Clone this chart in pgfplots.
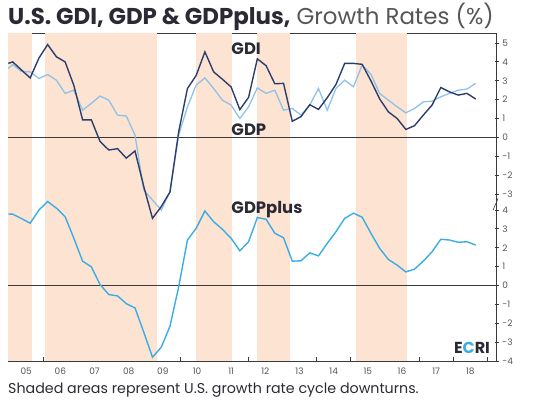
\documentclass[border=0pt]{standalone}
\usepackage{fontspec}
\setmainfont{Poppins}
\usepackage{pgfplots}
\pgfplotsset{compat=1.18}
\usepackage{pgfplotstable}
\definecolor{gdicol}{HTML}{2C3E6E}
\definecolor{gdpcol}{HTML}{8DC3E8}
\definecolor{pluscol}{HTML}{3AACE6}
\definecolor{shadecol}{HTML}{FCE3D2}
\definecolor{framecol}{HTML}{3A3A3A}
\definecolor{tickcol}{HTML}{555555}
\definecolor{titlecol}{HTML}{2A2A35}

% i = quarter index; top panel values (GDI, GDP) are shifted by +7.85 on the shared axis
\pgfplotstableread{
i gdi gdp plus
0.496 3.92 3.65 3.79
1 4.00 3.86 3.78
2 3.57 3.50 3.55
3 3.15 3.47 3.30
4 4.20 3.12 4.00
5 4.92 3.33 4.45
6 4.27 3.03 4.10
7 4.00 2.33 3.65
8 2.75 2.50 2.50
9 0.93 1.44 1.29
10 0.93 1.80 0.99
11 -0.22 2.19 0.05
12 -0.67 1.97 -0.48
13 -0.60 1.18 -0.55
14 -1.10 1.13 -0.96
15 -0.72 0.12 -1.19
16 -2.60 -2.79 -2.47
17 -4.29 -3.32 -3.80
18 -3.67 -3.85 -3.27
19 -2.90 -2.88 -2.16
20 0.30 0.12 -0.07
21 2.59 1.62 2.41
22 3.28 2.77 3.03
23 4.53 3.15 3.95
24 3.47 2.59 3.38
25 3.08 1.97 2.98
26 2.67 1.71 2.50
27 1.47 1.00 1.84
28 2.12 1.62 2.32
29 4.16 2.62 3.60
30 3.80 2.33 3.51
31 2.84 2.50 2.77
32 2.86 1.44 2.53
33 0.85 1.53 1.29
34 1.10 1.18 1.31
35 1.73 1.71 1.73
36 1.48 2.59 1.57
37 2.10 1.44 2.23
38 2.80 2.59 2.85
39 3.92 3.03 3.56
40 3.92 2.68 3.83
41 3.87 3.83 3.62
42 3.00 3.35 2.77
43 2.04 2.33 1.97
44 1.35 1.97 1.38
45 1.00 1.62 1.08
46 0.42 1.30 0.72
47 0.62 1.53 0.87
48 1.18 1.88 1.29
49 1.71 1.92 1.79
50 2.64 2.15 2.45
51 2.41 2.33 2.41
52 2.24 2.50 2.29
53 2.33 2.56 2.32
54 2.03 2.86 2.14
}\data

\pgfplotstableread{
x0 x1
0.496 3.175
4.698 17.48
21.98 26.07
28.93 32.74
40.30 46.11
}\shades

\begin{document}
\begin{tikzpicture}
\path[use as bounding box] (-8.3bp,-39bp) rectangle (524.7bp,361bp);
\begin{axis}[
  at={(0,0)}, anchor=south west,
  scale only axis, width=488.4bp, height=328bp,
  xmin=0.496, xmax=56.40, ymin=-4, ymax=13.38,
  clip=false,
  axis line style={framecol, line width=0.9pt},
  /pgf/number format/assume math mode=true,
  major tick length=4bp, tick align=center,
  tick style={framecol, line width=0.8pt},
  xtick={2.549,6.459,10.369,14.28,18.19,22.10,26.01,29.92,33.83,37.74,41.65,45.56,49.47,53.38},
  xticklabels={05,06,07,08,09,10,11,12,13,14,15,16,17,18},
  xtick pos=bottom,
  xtick style={draw=none},
  xticklabel style={font=\fontsize{9}{9}\selectfont, text=tickcol, inner sep=1bp, yshift=-3.5bp},
  extra x ticks={4.504,8.414,12.324,16.235,20.145,24.055,27.966,31.876,35.786,39.696,43.607,47.517,51.427,55.338},
  extra x tick labels={},
  extra x tick style={tick align=inside, xtick style={draw=framecol, line width=0.8pt}},
  ytick={-4,-3,-2,-1,0,1,2,3,4,4.85,5.85,6.85,7.85,8.85,9.85,10.85,11.85,12.85},
  yticklabels={-4,-3,-2,-1,0,1,2,3,4,-3,-2,-1,0,1,2,3,4,5},
  ytick pos=right, yticklabel pos=right,
  yticklabel style={font=\fontsize{9}{9}\selectfont, text=tickcol, inner sep=1bp, anchor=west, xshift=2.5bp},
]
% shaded downturns
\pgfplotsinvokeforeach{0,1,2,3,4}{
  \pgfplotstablegetelem{#1}{x0}\of\shades \let\xa\pgfplotsretval
  \pgfplotstablegetelem{#1}{x1}\of\shades \let\xb\pgfplotsretval
  \addplot[fill=shadecol, draw=none] coordinates {(\xa,-4) (\xa,13.38) (\xb,13.38) (\xb,-4)} -- cycle;
}
% zero lines
\addplot[framecol, line width=0.8pt] coordinates {(0.496,0) (56.40,0)};
\addplot[framecol, line width=0.8pt] coordinates {(0.496,7.85) (56.40,7.85)};
% series
\addplot[gdpcol, line width=1.3pt] table[x=i, y expr=\thisrow{gdp}+7.85] {\data};
\addplot[gdicol, line width=1.4pt] table[x=i, y expr=\thisrow{gdi}+7.85] {\data};
\addplot[pluscol, line width=1.4pt] table[x=i, y=plus] {\data};
% labels
\node[anchor=base west, inner sep=0pt, font=\fontsize{16.5}{16.5}\selectfont\bfseries, text=titlecol] at (axis cs:26.02,12.25) {GDI};
\node[anchor=base west, inner sep=0pt, font=\fontsize{16.5}{16.5}\selectfont\bfseries, text=titlecol] at (axis cs:26.02,7.97) {GDP};
\node[anchor=base west, inner sep=0pt, font=\fontsize{16.5}{16.5}\selectfont\bfseries, text=titlecol] at (axis cs:26.02,3.82) {GDPplus};
\node[font=\fontsize{16}{16}\selectfont\bfseries, text=titlecol, inner sep=0pt] at (axis cs:53.57,-3.33) {E\textcolor{pluscol}{C}RI};
% axis break mark
\draw[framecol, line width=0.6pt] (axis cs:55.98,3.99) -- (axis cs:56.56,4.62);
\end{axis}
\node[anchor=base west, inner sep=0pt, text=titlecol] at (-0.3bp,336bp)
  {\fontsize{23}{23}\selectfont\textbf{U.S. GDI, GDP \& GDPplus,} \textcolor{tickcol}{Growth Rates (\%)}};
\node[anchor=base west, inner sep=0pt, text=titlecol] at (-0.3bp,-32bp)
  {\fontsize{14.3}{14.3}\selectfont Shaded areas represent U.S. growth rate cycle downturns.};
\end{tikzpicture}
\end{document}
